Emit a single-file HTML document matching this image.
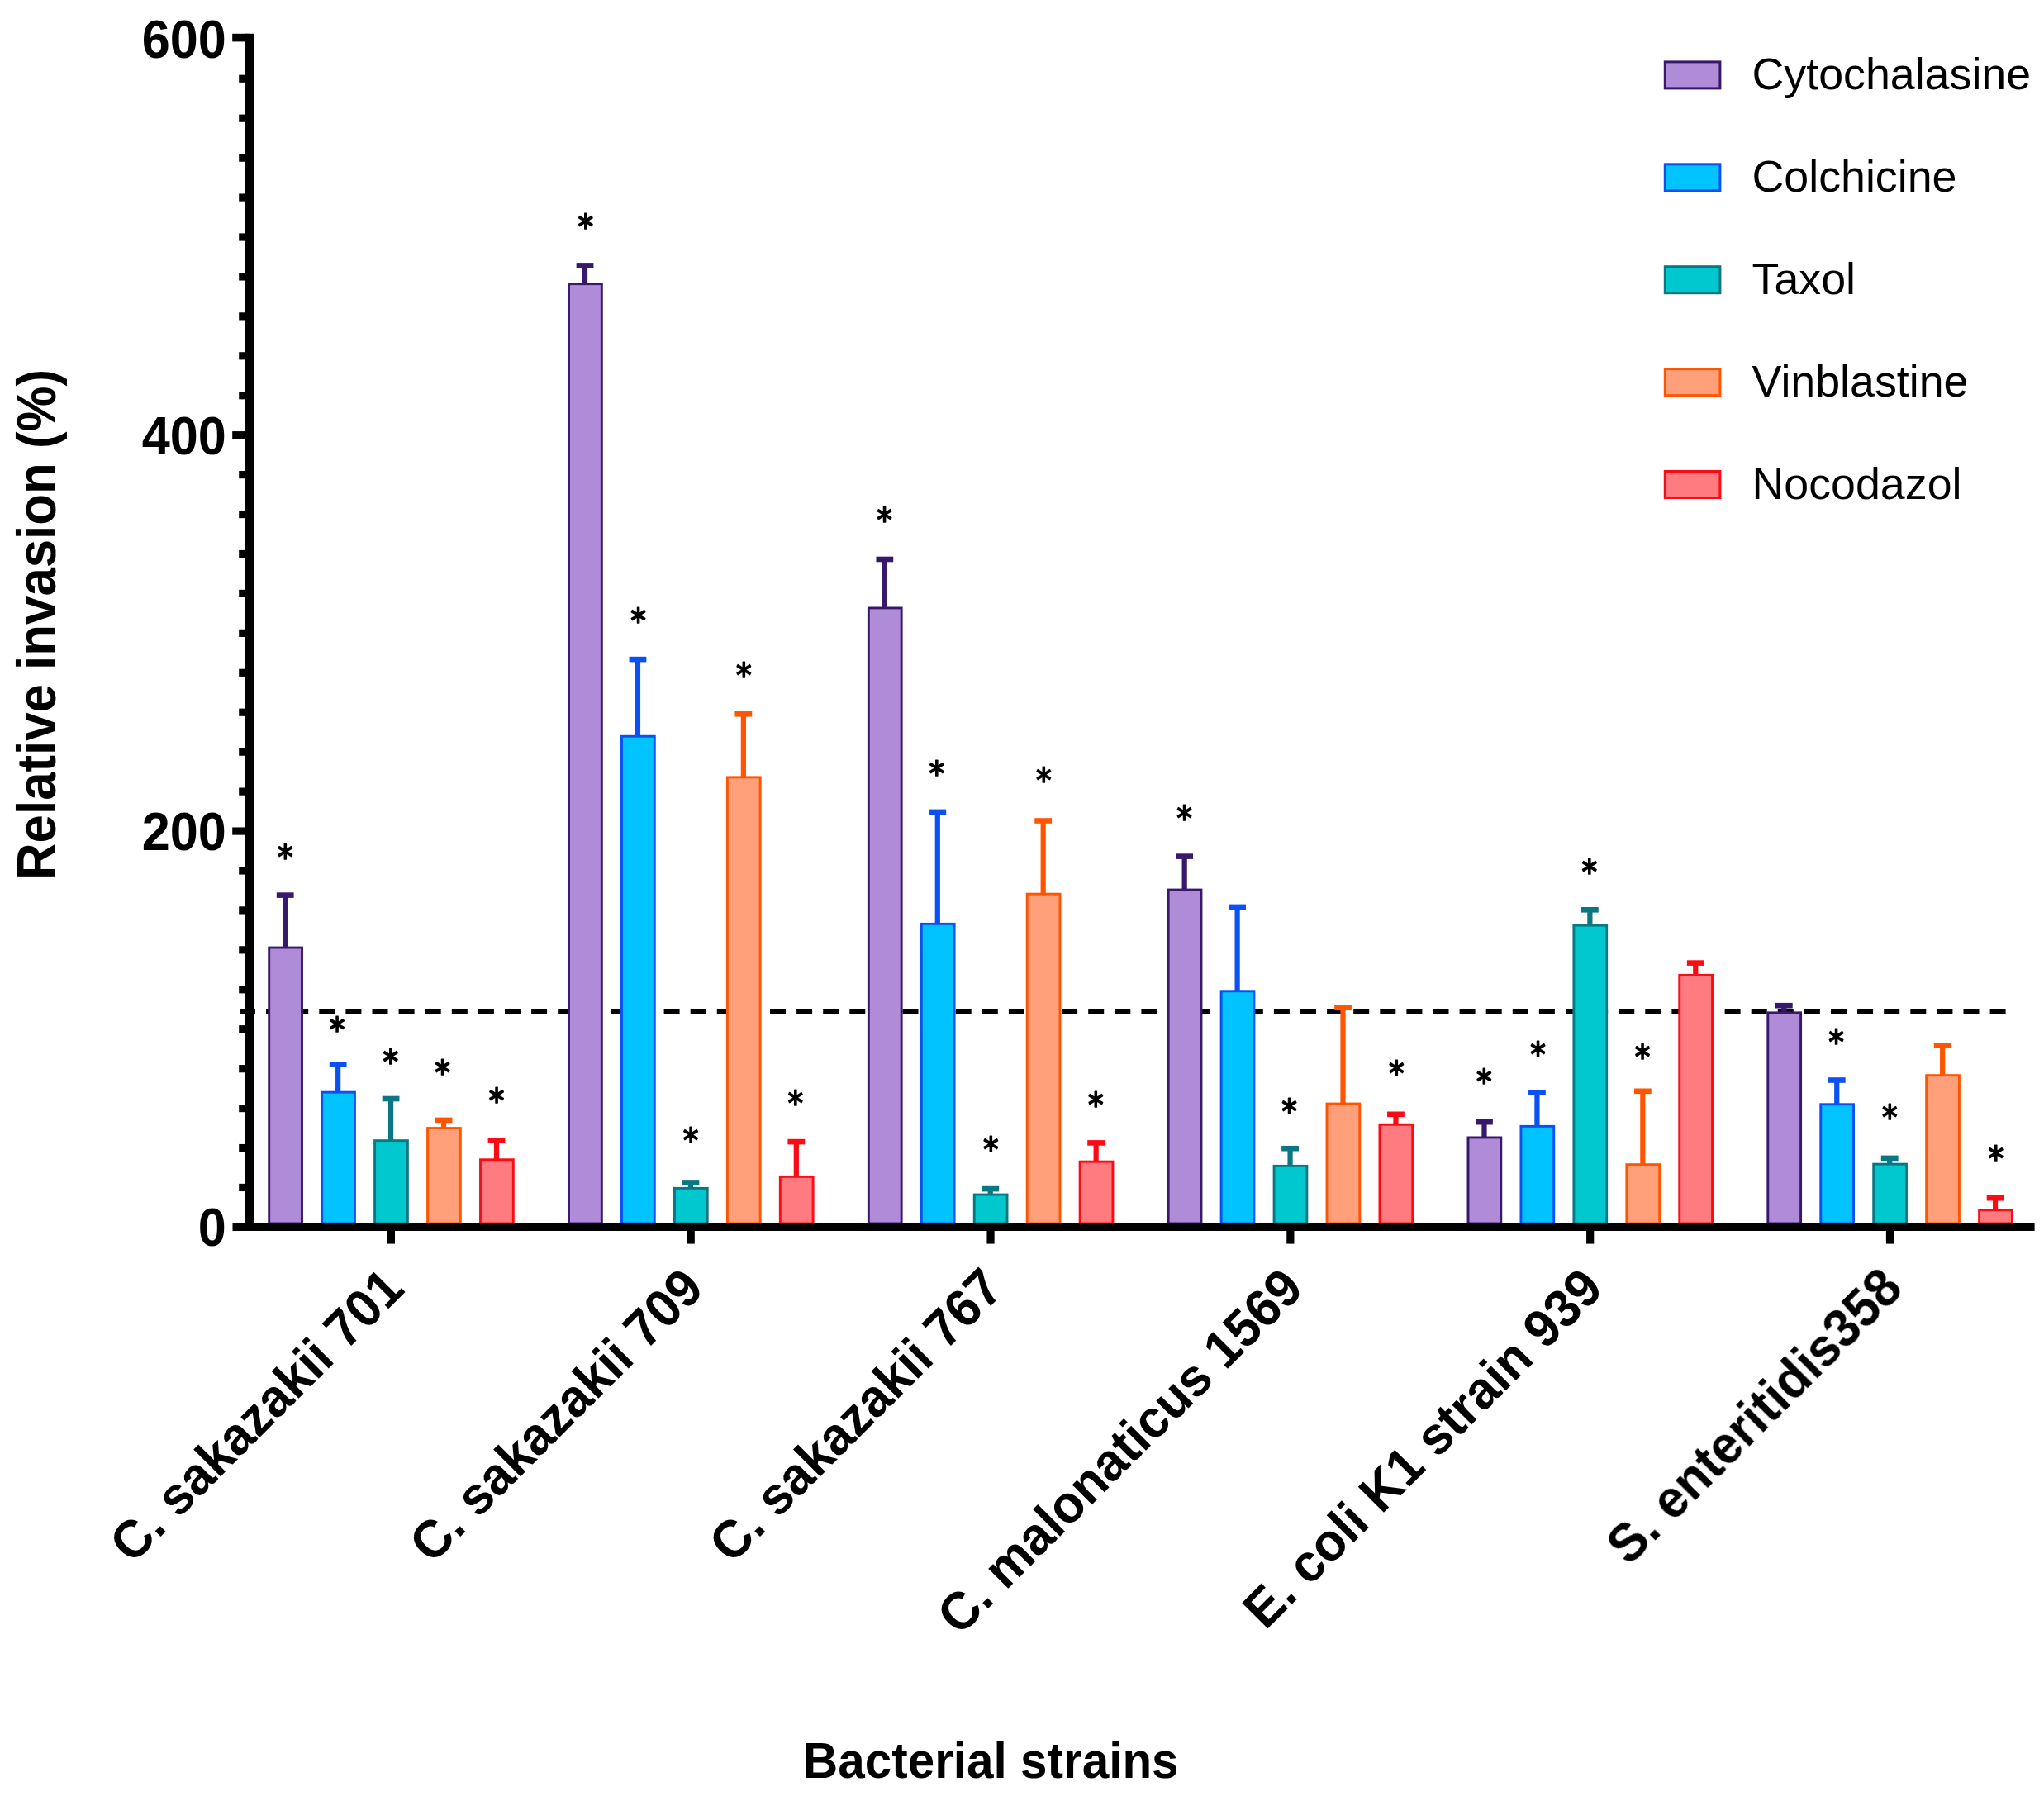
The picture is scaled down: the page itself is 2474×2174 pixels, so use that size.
<!DOCTYPE html>
<html lang="en"><head><meta charset="utf-8"><title>Relative invasion of bacterial strains</title>
<style>html,body{margin:0;padding:0;background:#fff}svg{display:block}</style></head>
<body>
<svg width="2474" height="2174" viewBox="0 0 2474 2174" role="img" aria-label="Bar chart: relative invasion (%) of bacterial strains after inhibitor treatment">
<defs><filter id="soft" x="0" y="0" width="100%" height="100%" filterUnits="userSpaceOnUse" color-interpolation-filters="sRGB"><feGaussianBlur stdDeviation="0.6"/></filter></defs>
<rect width="2474" height="2174" fill="#fff"/>
<g filter="url(#soft)">
<line x1="290.0" y1="1224.3" x2="2428.2" y2="1224.3" stroke="#000" stroke-width="6.8" stroke-dasharray="19.0 13.1"/>
<g>
<rect x="342.10" y="1081.70" width="6.2" height="64.90" fill="#38186B"/>
<rect x="334.80" y="1080.30" width="20.8" height="6.6" fill="#38186B"/>
<rect x="325.70" y="1147.05" width="39.80" height="333.95" fill="#AF8BD8" stroke="#38186B" stroke-width="2.9"/>
<rect x="406.05" y="1286.40" width="6.2" height="35.30" fill="#0A50F5"/>
<rect x="398.75" y="1285.00" width="20.8" height="6.6" fill="#0A50F5"/>
<rect x="389.65" y="1322.15" width="39.80" height="158.85" fill="#00C3FF" stroke="#0A50F5" stroke-width="2.9"/>
<rect x="470.00" y="1328.10" width="6.2" height="52.10" fill="#0B7783"/>
<rect x="462.70" y="1326.70" width="20.8" height="6.6" fill="#0B7783"/>
<rect x="453.60" y="1380.65" width="39.80" height="100.35" fill="#00C8CE" stroke="#0B7783" stroke-width="2.9"/>
<rect x="533.95" y="1354.00" width="6.2" height="11.10" fill="#FF5500"/>
<rect x="526.65" y="1352.60" width="20.8" height="6.6" fill="#FF5500"/>
<rect x="517.55" y="1365.55" width="39.80" height="115.45" fill="#FFA07A" stroke="#FF5500" stroke-width="2.9"/>
<rect x="597.90" y="1378.80" width="6.2" height="24.50" fill="#FF0A14"/>
<rect x="590.60" y="1377.40" width="20.8" height="6.6" fill="#FF0A14"/>
<rect x="581.50" y="1403.75" width="39.80" height="77.25" fill="#FF7B80" stroke="#FF0A14" stroke-width="2.9"/>
<rect x="704.92" y="319.50" width="6.2" height="23.70" fill="#38186B"/>
<rect x="697.62" y="318.10" width="20.8" height="6.6" fill="#38186B"/>
<rect x="688.52" y="343.65" width="39.80" height="1137.35" fill="#AF8BD8" stroke="#38186B" stroke-width="2.9"/>
<rect x="768.87" y="796.20" width="6.2" height="94.60" fill="#0A50F5"/>
<rect x="761.57" y="794.80" width="20.8" height="6.6" fill="#0A50F5"/>
<rect x="752.47" y="891.25" width="39.80" height="589.75" fill="#00C3FF" stroke="#0A50F5" stroke-width="2.9"/>
<rect x="832.82" y="1429.50" width="6.2" height="8.40" fill="#0B7783"/>
<rect x="825.52" y="1428.10" width="20.8" height="6.6" fill="#0B7783"/>
<rect x="816.42" y="1438.35" width="39.80" height="42.65" fill="#00C8CE" stroke="#0B7783" stroke-width="2.9"/>
<rect x="896.77" y="862.40" width="6.2" height="78.00" fill="#FF5500"/>
<rect x="889.47" y="861.00" width="20.8" height="6.6" fill="#FF5500"/>
<rect x="880.37" y="940.85" width="39.80" height="540.15" fill="#FFA07A" stroke="#FF5500" stroke-width="2.9"/>
<rect x="960.72" y="1380.20" width="6.2" height="43.70" fill="#FF0A14"/>
<rect x="953.42" y="1378.80" width="20.8" height="6.6" fill="#FF0A14"/>
<rect x="944.32" y="1424.35" width="39.80" height="56.65" fill="#FF7B80" stroke="#FF0A14" stroke-width="2.9"/>
<rect x="1067.74" y="675.10" width="6.2" height="60.40" fill="#38186B"/>
<rect x="1060.44" y="673.70" width="20.8" height="6.6" fill="#38186B"/>
<rect x="1051.34" y="735.95" width="39.80" height="745.05" fill="#AF8BD8" stroke="#38186B" stroke-width="2.9"/>
<rect x="1131.69" y="981.00" width="6.2" height="136.90" fill="#0A50F5"/>
<rect x="1124.39" y="979.60" width="20.8" height="6.6" fill="#0A50F5"/>
<rect x="1115.29" y="1118.35" width="39.80" height="362.65" fill="#00C3FF" stroke="#0A50F5" stroke-width="2.9"/>
<rect x="1195.64" y="1437.20" width="6.2" height="8.40" fill="#0B7783"/>
<rect x="1188.34" y="1435.80" width="20.8" height="6.6" fill="#0B7783"/>
<rect x="1179.24" y="1446.05" width="39.80" height="34.95" fill="#00C8CE" stroke="#0B7783" stroke-width="2.9"/>
<rect x="1259.59" y="991.60" width="6.2" height="90.10" fill="#FF5500"/>
<rect x="1252.29" y="990.20" width="20.8" height="6.6" fill="#FF5500"/>
<rect x="1243.19" y="1082.15" width="39.80" height="398.85" fill="#FFA07A" stroke="#FF5500" stroke-width="2.9"/>
<rect x="1323.54" y="1381.50" width="6.2" height="24.20" fill="#FF0A14"/>
<rect x="1316.24" y="1380.10" width="20.8" height="6.6" fill="#FF0A14"/>
<rect x="1307.14" y="1406.15" width="39.80" height="74.85" fill="#FF7B80" stroke="#FF0A14" stroke-width="2.9"/>
<rect x="1430.56" y="1034.70" width="6.2" height="41.90" fill="#38186B"/>
<rect x="1423.26" y="1033.30" width="20.8" height="6.6" fill="#38186B"/>
<rect x="1414.16" y="1077.05" width="39.80" height="403.95" fill="#AF8BD8" stroke="#38186B" stroke-width="2.9"/>
<rect x="1494.51" y="1096.00" width="6.2" height="103.30" fill="#0A50F5"/>
<rect x="1487.21" y="1094.60" width="20.8" height="6.6" fill="#0A50F5"/>
<rect x="1478.11" y="1199.75" width="39.80" height="281.25" fill="#00C3FF" stroke="#0A50F5" stroke-width="2.9"/>
<rect x="1558.46" y="1388.30" width="6.2" height="22.60" fill="#0B7783"/>
<rect x="1551.16" y="1386.90" width="20.8" height="6.6" fill="#0B7783"/>
<rect x="1542.06" y="1411.35" width="39.80" height="69.65" fill="#00C8CE" stroke="#0B7783" stroke-width="2.9"/>
<rect x="1622.41" y="1217.80" width="6.2" height="117.80" fill="#FF5500"/>
<rect x="1615.11" y="1216.40" width="20.8" height="6.6" fill="#FF5500"/>
<rect x="1606.01" y="1336.05" width="39.80" height="144.95" fill="#FFA07A" stroke="#FF5500" stroke-width="2.9"/>
<rect x="1686.36" y="1346.90" width="6.2" height="13.90" fill="#FF0A14"/>
<rect x="1679.06" y="1345.50" width="20.8" height="6.6" fill="#FF0A14"/>
<rect x="1669.96" y="1361.25" width="39.80" height="119.75" fill="#FF7B80" stroke="#FF0A14" stroke-width="2.9"/>
<rect x="1793.38" y="1356.30" width="6.2" height="20.20" fill="#38186B"/>
<rect x="1786.08" y="1354.90" width="20.8" height="6.6" fill="#38186B"/>
<rect x="1776.98" y="1376.95" width="39.80" height="104.05" fill="#AF8BD8" stroke="#38186B" stroke-width="2.9"/>
<rect x="1857.33" y="1320.40" width="6.2" height="42.50" fill="#0A50F5"/>
<rect x="1850.03" y="1319.00" width="20.8" height="6.6" fill="#0A50F5"/>
<rect x="1840.93" y="1363.35" width="39.80" height="117.65" fill="#00C3FF" stroke="#0A50F5" stroke-width="2.9"/>
<rect x="1921.28" y="1099.40" width="6.2" height="20.30" fill="#0B7783"/>
<rect x="1913.98" y="1098.00" width="20.8" height="6.6" fill="#0B7783"/>
<rect x="1904.88" y="1120.15" width="39.80" height="360.85" fill="#00C8CE" stroke="#0B7783" stroke-width="2.9"/>
<rect x="1985.23" y="1318.90" width="6.2" height="90.30" fill="#FF5500"/>
<rect x="1977.93" y="1317.50" width="20.8" height="6.6" fill="#FF5500"/>
<rect x="1968.83" y="1409.65" width="39.80" height="71.35" fill="#FFA07A" stroke="#FF5500" stroke-width="2.9"/>
<rect x="2049.18" y="1163.70" width="6.2" height="16.20" fill="#FF0A14"/>
<rect x="2041.88" y="1162.30" width="20.8" height="6.6" fill="#FF0A14"/>
<rect x="2032.78" y="1180.35" width="39.80" height="300.65" fill="#FF7B80" stroke="#FF0A14" stroke-width="2.9"/>
<rect x="2156.20" y="1215.30" width="6.2" height="10.10" fill="#38186B"/>
<rect x="2148.90" y="1213.90" width="20.8" height="6.6" fill="#38186B"/>
<rect x="2139.80" y="1225.85" width="39.80" height="255.15" fill="#AF8BD8" stroke="#38186B" stroke-width="2.9"/>
<rect x="2220.15" y="1305.60" width="6.2" height="30.70" fill="#0A50F5"/>
<rect x="2212.85" y="1304.20" width="20.8" height="6.6" fill="#0A50F5"/>
<rect x="2203.75" y="1336.75" width="39.80" height="144.25" fill="#00C3FF" stroke="#0A50F5" stroke-width="2.9"/>
<rect x="2284.10" y="1400.00" width="6.2" height="8.70" fill="#0B7783"/>
<rect x="2276.80" y="1398.60" width="20.8" height="6.6" fill="#0B7783"/>
<rect x="2267.70" y="1409.15" width="39.80" height="71.85" fill="#00C8CE" stroke="#0B7783" stroke-width="2.9"/>
<rect x="2348.05" y="1263.60" width="6.2" height="37.60" fill="#FF5500"/>
<rect x="2340.75" y="1262.20" width="20.8" height="6.6" fill="#FF5500"/>
<rect x="2331.65" y="1301.65" width="39.80" height="179.35" fill="#FFA07A" stroke="#FF5500" stroke-width="2.9"/>
<rect x="2412.00" y="1448.30" width="6.2" height="16.00" fill="#FF0A14"/>
<rect x="2404.70" y="1446.90" width="20.8" height="6.6" fill="#FF0A14"/>
<rect x="2395.60" y="1464.75" width="39.80" height="16.25" fill="#FF7B80" stroke="#FF0A14" stroke-width="2.9"/>
</g>
<g fill="#000">
<rect x="296.90" y="40.80" width="10.4" height="1449.20"/>
<rect x="281.5" y="1480.40" width="2181.10" height="9.6"/>
<rect x="289.2" y="1432.86" width="11" height="9.2"/>
<rect x="289.2" y="1384.93" width="11" height="9.2"/>
<rect x="289.2" y="1336.99" width="11" height="9.2"/>
<rect x="289.2" y="1289.06" width="11" height="9.2"/>
<rect x="289.2" y="1241.12" width="11" height="9.2"/>
<rect x="289.2" y="1193.18" width="11" height="9.2"/>
<rect x="289.2" y="1145.25" width="11" height="9.2"/>
<rect x="289.2" y="1097.31" width="11" height="9.2"/>
<rect x="289.2" y="1049.38" width="11" height="9.2"/>
<rect x="281.2" y="1001.44" width="21" height="9.2"/>
<rect x="289.2" y="953.50" width="11" height="9.2"/>
<rect x="289.2" y="905.57" width="11" height="9.2"/>
<rect x="289.2" y="857.63" width="11" height="9.2"/>
<rect x="289.2" y="809.70" width="11" height="9.2"/>
<rect x="289.2" y="761.76" width="11" height="9.2"/>
<rect x="289.2" y="713.82" width="11" height="9.2"/>
<rect x="289.2" y="665.89" width="11" height="9.2"/>
<rect x="289.2" y="617.95" width="11" height="9.2"/>
<rect x="289.2" y="570.02" width="11" height="9.2"/>
<rect x="281.2" y="522.08" width="21" height="9.2"/>
<rect x="289.2" y="474.14" width="11" height="9.2"/>
<rect x="289.2" y="426.21" width="11" height="9.2"/>
<rect x="289.2" y="378.27" width="11" height="9.2"/>
<rect x="289.2" y="330.34" width="11" height="9.2"/>
<rect x="289.2" y="282.40" width="11" height="9.2"/>
<rect x="289.2" y="234.46" width="11" height="9.2"/>
<rect x="289.2" y="186.53" width="11" height="9.2"/>
<rect x="289.2" y="138.59" width="11" height="9.2"/>
<rect x="289.2" y="90.66" width="11" height="9.2"/>
<rect x="281.2" y="40.80" width="21" height="9.6"/>
<rect x="468.80" y="1485.20" width="9.2" height="20.40"/>
<rect x="831.62" y="1485.20" width="9.2" height="20.40"/>
<rect x="1194.44" y="1485.20" width="9.2" height="20.40"/>
<rect x="1557.26" y="1485.20" width="9.2" height="20.40"/>
<rect x="1920.08" y="1485.20" width="9.2" height="20.40"/>
<rect x="2282.90" y="1485.20" width="9.2" height="20.40"/>
</g>
<g font-family="'Liberation Sans', Arial, sans-serif" font-weight="bold" font-size="61.2" text-anchor="end" fill="#000">
<text transform="translate(273.8 1507.80) scale(1 1.07)">0</text>
<text transform="translate(273.8 1029.30) scale(1 1.07)">200</text>
<text transform="translate(273.8 550.20) scale(1 1.07)">400</text>
<text transform="translate(273.8 70.20) scale(1 1.07)">600</text>
</g>
<g font-family="'DejaVu Sans', sans-serif" font-size="41.4" text-anchor="middle" fill="#000" stroke="#000" stroke-width="1.7" stroke-linejoin="round">
<text transform="translate(345.4 1051.5) scale(0.9 1)">*</text>
<text transform="translate(408.0 1261.4) scale(0.9 1)">*</text>
<text transform="translate(472.7 1300.0) scale(0.9 1)">*</text>
<text transform="translate(535.6 1313.0) scale(0.9 1)">*</text>
<text transform="translate(601.0 1346.5) scale(0.9 1)">*</text>
<text transform="translate(708.7 289.4) scale(0.9 1)">*</text>
<text transform="translate(772.5 766.4) scale(0.9 1)">*</text>
<text transform="translate(836.0 1395.0) scale(0.9 1)">*</text>
<text transform="translate(900.3 831.8) scale(0.9 1)">*</text>
<text transform="translate(962.9 1349.6) scale(0.9 1)">*</text>
<text transform="translate(1070.6 644.2) scale(0.9 1)">*</text>
<text transform="translate(1133.8 951.1) scale(0.9 1)">*</text>
<text transform="translate(1199.3 1405.5) scale(0.9 1)">*</text>
<text transform="translate(1263.3 959.3) scale(0.9 1)">*</text>
<text transform="translate(1326.2 1352.3) scale(0.9 1)">*</text>
<text transform="translate(1433.6 1005.3) scale(0.9 1)">*</text>
<text transform="translate(1560.5 1359.8) scale(0.9 1)">*</text>
<text transform="translate(1690.3 1314.0) scale(0.9 1)">*</text>
<text transform="translate(1796.3 1323.7) scale(0.9 1)">*</text>
<text transform="translate(1861.5 1291.3) scale(0.9 1)">*</text>
<text transform="translate(1923.7 1069.8) scale(0.9 1)">*</text>
<text transform="translate(1988.0 1293.6) scale(0.9 1)">*</text>
<text transform="translate(2222.5 1276.2) scale(0.9 1)">*</text>
<text transform="translate(2287.4 1367.4) scale(0.9 1)">*</text>
<text transform="translate(2415.7 1416.9) scale(0.9 1)">*</text>
</g>
<g font-family="'Liberation Sans', Arial, sans-serif" font-weight="bold" font-size="61.6" text-anchor="end" fill="#000">
<text transform="translate(491.7 1562.7) rotate(-45) scale(1 1.04)">C. sakazakii 701</text>
<text transform="translate(854.5 1562.7) rotate(-45) scale(1 1.04)">C. sakazakii 709</text>
<text transform="translate(1217.3 1562.7) rotate(-45) scale(1 1.04)">C. sakazakii 767</text>
<text transform="translate(1580.2 1562.7) rotate(-45) scale(1 1.04)">C. malonaticus 1569</text>
<text transform="translate(1943.0 1562.7) rotate(-45) scale(1 1.04)">E. coli K1 strain 939</text>
<text transform="translate(2305.8 1562.7) rotate(-45) scale(1 1.04)">S. enteritidis358</text>
</g>
<text transform="translate(67 756) rotate(-90) scale(1 1.07)" font-family="'Liberation Sans', Arial, sans-serif" font-weight="bold" font-size="61.8" text-anchor="middle" fill="#000">Relative invasion (%)</text>
<text transform="translate(1199.3 2152) scale(0.997 1.035)" font-family="'Liberation Sans', Arial, sans-serif" font-weight="bold" font-size="58.6" text-anchor="middle" fill="#000">Bacterial strains</text>
<g font-family="'Liberation Sans', Arial, sans-serif" font-size="53.75" fill="#000">
<rect x="2015.30" y="74.90" width="66.60" height="32.00" fill="#AF8BD8" stroke="#38186B" stroke-width="3"/>
<text x="2120.5" y="108.40">Cytochalasine</text>
<rect x="2015.30" y="198.80" width="66.60" height="32.00" fill="#00C3FF" stroke="#0A50F5" stroke-width="3"/>
<text x="2120.5" y="232.30">Colchicine</text>
<rect x="2015.30" y="322.70" width="66.60" height="32.00" fill="#00C8CE" stroke="#0B7783" stroke-width="3"/>
<text x="2120.5" y="356.20">Taxol</text>
<rect x="2015.30" y="446.60" width="66.60" height="32.00" fill="#FFA07A" stroke="#FF5500" stroke-width="3"/>
<text x="2120.5" y="480.10">Vinblastine</text>
<rect x="2015.30" y="570.50" width="66.60" height="32.00" fill="#FF7B80" stroke="#FF0A14" stroke-width="3"/>
<text x="2120.5" y="604.00">Nocodazol</text>
</g>
</g>
</svg>
</body></html>
